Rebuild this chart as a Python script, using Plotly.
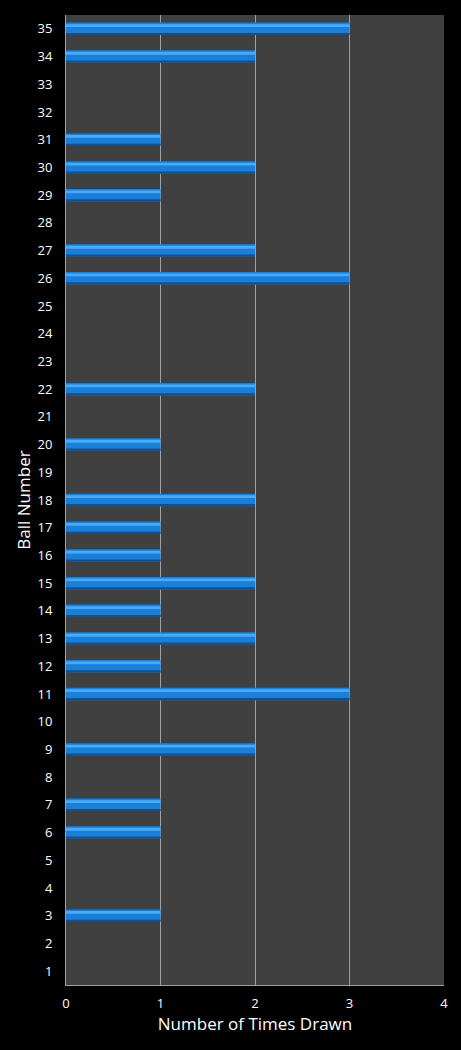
import plotly.graph_objects as go

balls = list(range(1, 36))
times_drawn = [0, 0, 1, 0, 0, 1, 1, 0, 2, 0,
               3, 1, 2, 1, 2, 1, 1, 2, 0, 1,
               0, 2, 0, 0, 0, 3, 2, 0, 1, 2,
               1, 0, 0, 2, 3]

fig = go.Figure()
# main bar body
fig.add_trace(go.Bar(
    x=times_drawn, y=balls, orientation="h", width=0.45,
    marker=dict(color="#1a7fd8", line=dict(width=0)),
    hoverinfo="x+y",
))
# darker bottom edge
fig.add_trace(go.Bar(
    x=times_drawn, y=balls, orientation="h", width=0.08, offset=-0.225,
    marker=dict(color="#0d5299", line=dict(width=0)),
    hoverinfo="skip",
))
# glossy highlight strip near the top of each bar
fig.add_trace(go.Bar(
    x=times_drawn, y=balls, orientation="h", width=0.1, offset=0.07,
    marker=dict(color="#4aaaf4", line=dict(width=0)),
    hoverinfo="skip",
))

fig.update_layout(
    width=461, height=1050,
    barmode="overlay",
    showlegend=False,
    paper_bgcolor="black",
    plot_bgcolor="#404040",
    margin=dict(l=66, r=17, t=15, b=65),
    font=dict(family="Open Sans, DejaVu Sans, sans-serif", color="white", size=13),
)
fig.update_xaxes(
    range=[0, 4], dtick=1, tick0=0,
    showgrid=True, gridcolor="#a0a0a0", gridwidth=1,
    showline=True, linecolor="#a0a0a0",
    zeroline=False, ticks="outside", ticklen=6, tickcolor="rgba(0,0,0,0)",
    title=dict(text="Number of Times Drawn", font=dict(size=17), standoff=4),
)
fig.update_yaxes(
    range=[0.5, 35.5], dtick=1, tick0=1,
    showgrid=False, showline=True, linecolor="#a0a0a0",
    zeroline=False, ticks="outside", ticklen=10, tickcolor="rgba(0,0,0,0)",
    title=dict(text="Ball Number", font=dict(size=17), standoff=2),
)

fig.write_html(
    "out.html",
    config={"displayModeBar": False},
    post_script="document.body.style.margin='0';document.body.style.background='black';",
)
